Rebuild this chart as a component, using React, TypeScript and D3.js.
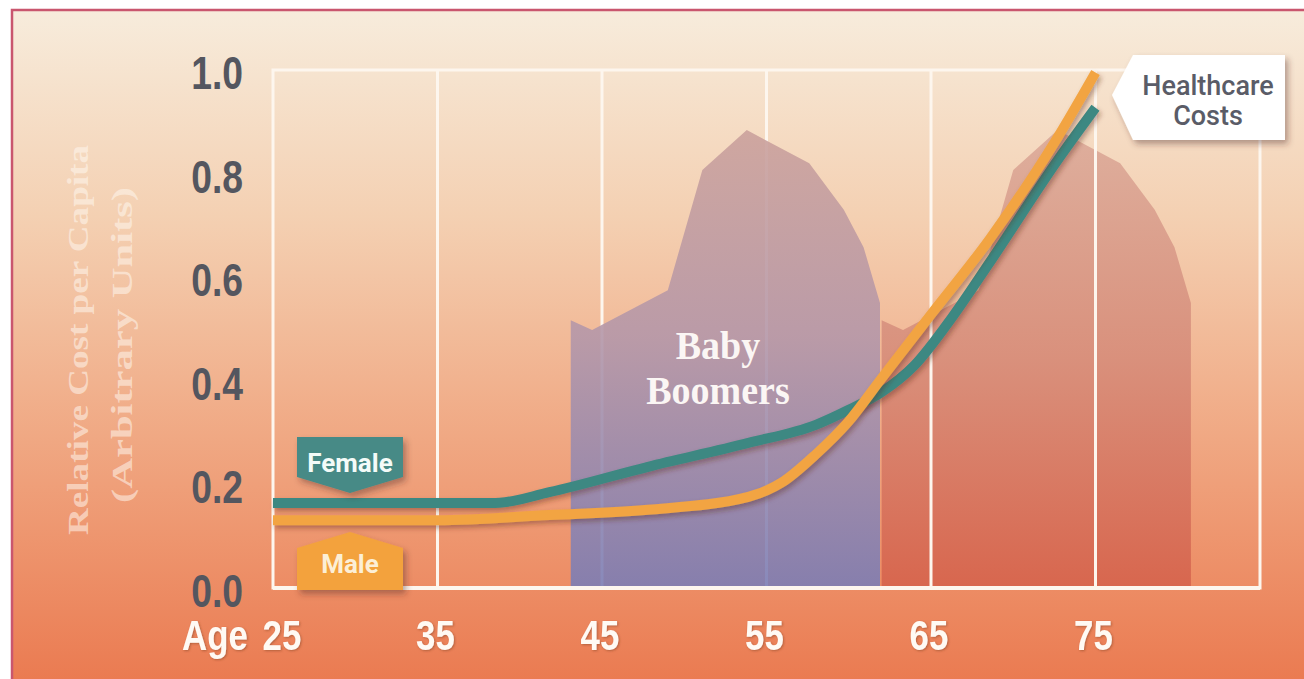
import React from 'react';
import * as d3 from 'd3';

// ---- data ----
const AGE_TICKS = [25, 35, 45, 55, 65, 75];
const COST_TICKS = [0, 0.2, 0.4, 0.6, 0.8, 1.0];

const FEMALE_AGE = [25, 38.5, 41.8, 47.8, 53.9, 58, 60, 62, 64, 66, 68.6, 72.7, 75];
const FEMALE_COST = [0.164, 0.164, 0.185, 0.234, 0.28, 0.315, 0.344, 0.378, 0.43, 0.51, 0.63, 0.826, 0.927];

const MALE_AGE = [25, 35, 41.8, 47.8, 53.9, 55.9, 58, 60, 62, 65, 68.6, 72.7, 75];
const MALE_COST = [0.131, 0.131, 0.141, 0.151, 0.176, 0.203, 0.258, 0.322, 0.405, 0.528, 0.675, 0.87, 0.995];

const BOOMERS_NOW_AGE = [43.1, 44.4, 49.0, 51.1, 53.8, 57.6, 59.7, 60.9, 61.9];
const BOOMERS_NOW_POP = [0.517, 0.498, 0.575, 0.807, 0.884, 0.82, 0.73, 0.658, 0.55];

const BOOMERS_LATER_AGE = [62.0, 63.3, 67.9, 70.0, 72.7, 76.5, 78.6, 79.8, 80.8];
const BOOMERS_LATER_POP = [0.517, 0.498, 0.575, 0.807, 0.884, 0.82, 0.73, 0.658, 0.55];

const W = 1304;
const H = 679;

export default function App() {
  const x = d3.scaleLinear().domain([25, 85]).range([273, 1260]);
  const y = d3.scaleLinear().domain([0, 1]).range([588, 70]);

  const line = d3
    .line<[number, number]>()
    .x((d) => x(d[0]))
    .y((d) => y(d[1]))
    .curve(d3.curveMonotoneX);

  const area = d3
    .area<[number, number]>()
    .x((d) => x(d[0]))
    .y0(y(0))
    .y1((d) => y(d[1]))
    .curve(d3.curveLinear);

  const female = FEMALE_AGE.map((a, i) => [a, FEMALE_COST[i]] as [number, number]);
  const male = MALE_AGE.map((a, i) => [a, MALE_COST[i]] as [number, number]);
  const boomNow = BOOMERS_NOW_AGE.map((a, i) => [a, BOOMERS_NOW_POP[i]] as [number, number]);
  const boomLater = BOOMERS_LATER_AGE.map((a, i) => [a, BOOMERS_LATER_POP[i]] as [number, number]);

  const [x0, x1] = x.range();
  const [yb, yt] = y.range();

  return (
    <svg width={W} height={H} style={{ position: 'absolute', left: 0, top: 0 }}>
      <defs>
        <linearGradient id="bg" x1="0" y1="0" x2="0" y2="1">
          <stop offset="0" stopColor="#f7ecdc" />
          <stop offset="0.3" stopColor="#f4d0b2" />
          <stop offset="0.62" stopColor="#f0a883" />
          <stop offset="1" stopColor="#ea774d" />
        </linearGradient>
        <linearGradient id="boom1" gradientUnits="userSpaceOnUse" x1="0" y1="130" x2="0" y2="588">
          <stop offset="0" stopColor="#cba19c" />
          <stop offset="0.45" stopColor="#b497a9" />
          <stop offset="1" stopColor="#7b7db5" />
        </linearGradient>
        <linearGradient id="boom2" gradientUnits="userSpaceOnUse" x1="0" y1="130" x2="0" y2="588">
          <stop offset="0" stopColor="#dcab9a" />
          <stop offset="0.5" stopColor="#d78d7a" />
          <stop offset="1" stopColor="#d6634c" />
        </linearGradient>
        <filter id="shadow" x="-10%" y="-10%" width="130%" height="140%">
          <feDropShadow dx="2" dy="3" stdDeviation="2.5" floodColor="#5a2a18" floodOpacity="0.4" />
        </filter>
        <filter id="boxShadow" x="-10%" y="-20%" width="130%" height="150%">
          <feDropShadow dx="3" dy="4" stdDeviation="3" floodColor="#4a2a20" floodOpacity="0.4" />
        </filter>
        <filter id="txtShadow" x="-10%" y="-10%" width="130%" height="140%">
          <feDropShadow dx="1" dy="1" stdDeviation="1" floodColor="#7a3a20" floodOpacity="0.5" />
        </filter>
      </defs>

      <rect x={0} y={0} width={W} height={H} fill="#ffffff" />
      <rect x={12} y={10} width={1300} height={690} fill="url(#bg)" stroke="#c9566e" strokeWidth={2.5} />

      {/* later boomers shape (under grid) */}
      <path d={area(boomLater) || ''} fill="url(#boom2)" opacity={0.92} />

      {/* grid lines */}
      {AGE_TICKS.slice(1).map((a) => (
        <line key={a} x1={x(a)} x2={x(a)} y1={yt} y2={yb} stroke="#fdf6ee" strokeWidth={3} />
      ))}

      {/* current boomers shape (over grid) */}
      <path d={area(boomNow) || ''} fill="url(#boom1)" opacity={0.9} />

      {/* frame */}
      <rect x={x0} y={yt} width={x1 - x0} height={yb - yt} fill="none" stroke="#fdf6ee" strokeWidth={3} />
      <line x1={x0} x2={x1} y1={yb} y2={yb} stroke="#fdf6ee" strokeWidth={4} />

      {/* Baby boomers label */}
      <g fontFamily="'Liberation Serif', 'DejaVu Serif', serif" fontWeight="bold" fontSize={38} fill="#fbf6f4" textAnchor="middle">
        <text transform="translate(718,359) scale(1,1.05)">Baby</text>
        <text transform="translate(718,404) scale(1,1.05)">Boomers</text>
      </g>

      {/* cost lines */}
      <path d={line(female) || ''} fill="none" stroke="#3e8882" strokeWidth={10} filter="url(#shadow)" />
      <path d={line(male) || ''} fill="none" stroke="#f2a443" strokeWidth={10} filter="url(#shadow)" />

      {/* Female label */}
      <g filter="url(#boxShadow)">
        <polygon points="297,437 403,437 403,477 350,493 297,477" fill="#478a86" />
      </g>
      <text x={350} y={472} textAnchor="middle" fontFamily="Roboto, 'Liberation Sans', sans-serif" fontWeight="bold" fontSize={26} fill="#f4fbf8">
        Female
      </text>

      {/* Male label */}
      <g filter="url(#boxShadow)">
        <polygon points="297,548 350,532 403,548 403,590 297,590" fill="#f3a23d" />
      </g>
      <text x={350} y={573} textAnchor="middle" fontFamily="Roboto, 'Liberation Sans', sans-serif" fontWeight="bold" fontSize={26} fill="#fcefd6">
        Male
      </text>

      {/* Healthcare costs callout */}
      <g filter="url(#boxShadow)">
        <polygon points="1112,95 1133,55 1285,55 1285,140 1133,140" fill="#ffffff" />
      </g>
      <text textAnchor="middle" fontFamily="Roboto, 'Liberation Sans', sans-serif" fontWeight={500} fontSize={27} fill="#5a5c67">
        <tspan x={1208} y={95}>Healthcare</tspan>
        <tspan x={1208} y={125}>Costs</tspan>
      </text>

      {/* y tick labels */}
      {COST_TICKS.map((v) => (
        <text
          key={v}
          transform={`translate(243,${y(v) + 19}) scale(0.81,1)`}
          textAnchor="end"
          fontFamily="'Liberation Sans', Arial, sans-serif"
          fontWeight="bold"
          fontSize={46}
          fill="#54565f"
        >
          {v.toFixed(1)}
        </text>
      ))}

      {/* x tick labels */}
      <g filter="url(#txtShadow)">
        <text
          transform={`translate(215,650) scale(0.83,1)`}
          textAnchor="middle"
          fontFamily="'Liberation Sans', Arial, sans-serif"
          fontWeight="bold"
          fontSize={42}
          fill="#fffaf4"
        >
          Age
        </text>
        {AGE_TICKS.map((a, i) => (
          <text
            key={a}
            transform={`translate(${x(a) + (i === 0 ? 9 : -2)},650) scale(0.83,1)`}
            textAnchor="middle"
            fontFamily="'Liberation Sans', Arial, sans-serif"
            fontWeight="bold"
            fontSize={42}
            fill="#fffaf4"
          >
            {a}
          </text>
        ))}
      </g>

      {/* y axis title */}
      <text
        transform="translate(88,340) rotate(-90)"
        textAnchor="middle"
        fontFamily="'Liberation Serif', 'Times New Roman', serif"
        fontWeight="bold"
        fontSize={30}
        fill="#fff8f0"
        fillOpacity={0.55}
        textLength={390}
        lengthAdjust="spacingAndGlyphs"
      >
        Relative Cost per Capita
      </text>
      <text
        transform="translate(132,345) rotate(-90)"
        textAnchor="middle"
        fontFamily="'Liberation Serif', 'Times New Roman', serif"
        fontWeight="bold"
        fontSize={30}
        fill="#fff8f0"
        fillOpacity={0.55}
        textLength={316}
        lengthAdjust="spacingAndGlyphs"
      >
        (Arbitrary Units)
      </text>
    </svg>
  );
}
